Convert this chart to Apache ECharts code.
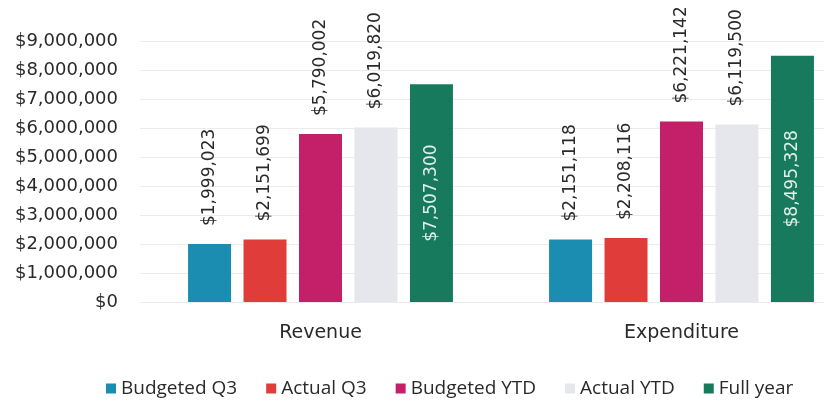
<!DOCTYPE html>
<html>
<head>
<meta charset="utf-8">
<script src="https://cdn.jsdelivr.net/npm/echarts@6/dist/echarts.min.js"></script>
<style>
html,body{margin:0;padding:0;background:#fff;}
#chart{width:824px;height:401px;}
</style>
</head>
<body>
<div id="chart"></div>
<script>
const categories = ['Revenue', 'Expenditure'];
const seriesNames = ['Budgeted Q3', 'Actual Q3', 'Budgeted YTD', 'Actual YTD', 'Full year'];
const budgetedQ3 = [1999023, 2151118];
const actualQ3 = [2151699, 2208116];
const budgetedYTD = [5790002, 6221142];
const actualYTD = [6019820, 6119500];
const fullYear = [7507300, 8495328];
const colors = ['#1a8db0', '#e03c3a', '#c41f69', '#e6e7ec', '#177a5c'];

const fmt = v => '$' + Math.round(v).toLocaleString('en-US');
const allData = [budgetedQ3, actualQ3, budgetedYTD, actualYTD, fullYear];

const chart = echarts.init(document.getElementById('chart'));
chart.setOption({
  animation: false,
  textStyle: { fontFamily: 'DejaVu Sans' },
  grid: { left: 140, width: 722, top: 41, bottom: 99, containLabel: false, outerBoundsMode: 'none' },
  legend: {
    left: 101, top: 374,
    itemWidth: 10, itemHeight: 10, itemGap: 29,
    icon: 'rect',
    textStyle: { fontFamily: 'Open Sans', fontSize: 19, color: '#2a2a2a' },
    data: seriesNames
  },
  xAxis: {
    type: 'category',
    data: categories,
    axisLine: { show: false },
    axisTick: { show: false },
    axisLabel: { fontFamily: 'DejaVu Sans', fontSize: 19, color: '#2a2a2a', margin: 22 }
  },
  yAxis: {
    type: 'value',
    min: 0, max: 9000000, interval: 1000000,
    axisLabel: { formatter: fmt, fontFamily: 'DejaVu Sans', fontSize: 18, color: '#2a2a2a', margin: 22 },
    splitLine: { lineStyle: { color: '#ebebeb', width: 1 } },
    axisLine: { show: false },
    axisTick: { show: false }
  },
  series: seriesNames.map((name, i) => ({
    name: name,
    type: 'bar',
    data: allData[i],
    barWidth: 43,
    barGap: '29%',
    itemStyle: { color: colors[i] },
    label: {
      show: true,
      rotate: 90,
      position: i === 4 ? 'inside' : 'top',
      distance: 18,
      align: i === 4 ? 'center' : 'left',
      verticalAlign: 'middle',
      formatter: p => fmt(p.value),
      fontFamily: 'DejaVu Sans',
      fontSize: 17,
      color: i === 4 ? '#dff0e8' : '#2a2a2a'
    }
  }))
});
</script>
</body>
</html>
